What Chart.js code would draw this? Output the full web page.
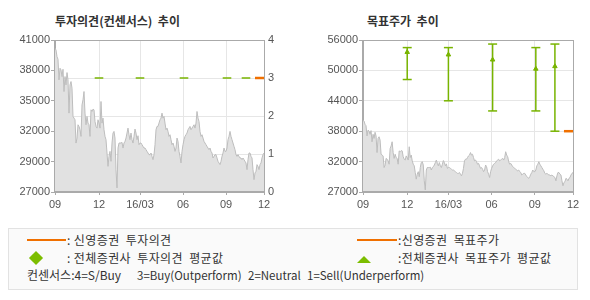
<!DOCTYPE html>
<html>
<head>
<meta charset="utf-8">
<script src="https://cdn.jsdelivr.net/npm/chart.js@4.4.1/dist/chart.umd.min.js"></script>
<style>
  body { margin: 0; background: #fff; width: 590px; height: 300px; position: relative; overflow: hidden;
         font-family: 'Noto Sans CJK KR', sans-serif; color: #333; }
  canvas { position: absolute; top: 0; }
  .title { position: absolute; top: 12px; font-size: 12px; font-weight: bold; color: #333; white-space: pre; }
  .legend { position: absolute; left: 8px; top: 228px; width: 568px; height: 60px;
            border: 1px solid #e2e2e2; background: #fafafa; }
  .lg { position: absolute; font-size: 12px; line-height: 16px; white-space: pre; color: #333; letter-spacing: 0.4px; }
  .lg.cs { letter-spacing: 0; font-size: 11.5px; }
  .ln { position: absolute; height: 2px; background: #f07000; }
  .dia { position: absolute; width: 10px; height: 10px; background: #7cbd00; transform: rotate(45deg); }
  .tri { position: absolute; width: 0; height: 0; border-left: 7px solid transparent;
         border-right: 7px solid transparent; border-bottom: 7px solid #7cbd00; }
</style>
</head>
<body>
<div class="title" style="left:55px">투자의견(컨센서스)  추이</div>
<div class="title" style="left:367px">목표주가  추이</div>
<canvas id="opinionChart" width="295" height="215" style="left:0"></canvas>
<canvas id="targetChart" width="290" height="215" style="left:300px"></canvas>

<div class="legend">
  <div class="ln" style="left:18px; top:10px; width:39px"></div>
  <div class="lg" style="left:58px; top:3px">: 신영증권  투자의견</div>
  <div class="dia" style="left:22px; top:24px"></div>
  <div class="lg" style="left:58px; top:21px">: 전체증권사  투자의견  평균값</div>
  <div class="lg" style="left:18px; top:38px; letter-spacing:0">컨센서스:4=S/Buy</div>
  <div class="lg cs" style="left:128px; top:38px">3=Buy(Outperform)</div>
  <div class="lg cs" style="left:239px; top:38px">2=Neutral</div>
  <div class="lg cs" style="left:298px; top:38px">1=Sell(Underperform)</div>
  <div class="ln" style="left:348px; top:10px; width:40px"></div>
  <div class="lg" style="left:389px; top:3px">:신영증권  목표주가</div>
  <div class="tri" style="left:348px; top:27px"></div>
  <div class="lg" style="left:389px; top:21px">:전체증권사  목표주가  평균값</div>
</div>

<script>
// ── Data ─────────────────────────────────────────────
// daily close, one value per trading day (2015/09 .. 2016/12)
const PRICE = [
  40180, 40016, 39360, 39098, 37064, 38212, 38048, 37392, 38114, 35916,
  37392, 36572, 37786, 37064, 33784, 36572, 36900, 36244, 33456, 33292,
  33128, 30832, 31324, 32636, 32472, 32144, 31488, 34604, 35096, 35916,
  33784, 32636, 33456, 32800, 32636, 31488, 34112, 33948, 34178, 34112,
  32964, 32472, 32308, 33128, 32800, 32308, 34932, 32800, 33292, 32144,
  31488, 31160, 29848, 28536, 29520, 30012, 29028, 30832, 31816, 31980,
  31324, 28208, 26404, 30340, 30832, 30832, 30832, 30898, 30340, 30832,
  30996, 31324, 31816, 32308, 31652, 31160, 31816, 31160, 30832, 31488,
  32210, 31816, 31160, 31554, 30668, 30832, 30832, 30668, 30504, 30340,
  30340, 30176, 30012, 29848, 29684, 29684, 29848, 29520, 29192, 29684,
  30668, 32144, 32472, 32472, 32800, 33128, 33292, 33784, 33292, 33456,
  32800, 32144, 32308, 31980, 31488, 31652, 31160, 30668, 30832, 30504,
  30012, 30340, 31324, 30996, 30012, 29520, 28864, 30012, 30668, 31160,
  31488, 31652, 31816, 32144, 32308, 32472, 32144, 32308, 32472, 32636,
  32308, 32800, 33948, 33292, 32964, 31980, 31488, 31652, 31324, 30996,
  30832, 30668, 30504, 30340, 30176, 30340, 30012, 29848, 29356, 29520,
  29684, 29684, 29356, 29028, 28864, 28700, 29028, 29520, 29848, 30340,
  30012, 30012, 30340, 31160, 31488, 31980, 31488, 31160, 30832, 30504,
  30176, 29684, 29520, 29684, 29520, 29356, 29356, 29192, 29356, 29192,
  29028, 28864, 28208, 29192, 29848, 29848, 29520, 29356, 28208, 27224,
  27880, 28044, 28700, 28536, 28208, 28700, 28864, 29356, 29684, 29848
];

const X_TICKS = [0, 44, 85, 128, 171, 209];
const X_LABELS = ['09', '12', '16/03', '06', '09', '12'];

// report dates (day index) of the broker consensus
const REPORT_IDX = [44, 85, 129, 172, 191];
const OPINION_AVG = [3, 3, 3, 3, 3];
const TARGET_HIGH = [54500, 54500, 55200, 54500, 55200];
const TARGET_LOW = [48200, 44000, 42000, 42000, 38000];
const TARGET_AVG = [53600, 53100, 52100, 50300, 50800];

// 신영증권 own call
const SY_IDX = [200, 209];
const SY_OPINION = [3, 3];
const SY_TARGET = [38000, 38000];

const OPINION_TICKS = [0, 1, 2, 3, 4];
const PRICE_TICKS_L = [26000, 29000, 32000, 35000, 38000, 41000];
const PRICE_LABELS_L = ['27000', '29000', '32000', '35000', '38000', '41000'];
const PRICE_TICKS_R = [26000, 32000, 38000, 44000, 50000, 56000];
const PRICE_LABELS_R = ['27000', '32000', '38000', '44000', '50000', '56000'];

// ── Style ────────────────────────────────────────────
const GREEN = '#78b400';
const ORANGE = '#f07000';
const AXIS = '#aaaaaa';
const GRID = '#e6e6e6';
const TICK_FONT = { family: 'Liberation Sans', size: 11 };
const TICK_COLOR = '#555';

// frame around the plot area
const framePlugin = {
  id: 'frame',
  afterDraw(chart) {
    const { ctx, chartArea: a } = chart;
    ctx.save();
    ctx.strokeStyle = AXIS;
    ctx.lineWidth = 1;
    ctx.strokeRect(Math.round(a.left) - 0.5, Math.round(a.top) + 0.5,
      Math.round(a.right - a.left) + 1, Math.round(a.bottom - a.top) - 1);
    ctx.restore();
  }
};

const priceData = PRICE.map((v, i) => ({ x: i, y: v }));

function priceDataset(axis) {
  return {
    type: 'line',
    data: priceData,
    yAxisID: axis,
    borderColor: '#bdbdbd',
    backgroundColor: '#e1e1e1',
    borderWidth: 1,
    pointRadius: 0,
    fill: 'start',
    tension: 0,
    order: 10
  };
}

function xScale() {
  return {
    type: 'linear',
    min: 0, max: PRICE.length - 1,
    afterBuildTicks: s => { s.ticks = X_TICKS.map(v => ({ value: v })); },
    afterFit: s => { s.height = 23; },
    grid: { color: GRID, tickColor: AXIS, tickLength: 3 },
    border: { color: AXIS },
    ticks: {
      autoSkip: false, maxRotation: 0, padding: 3,
      font: TICK_FONT, color: TICK_COLOR,
      callback: (v, i) => X_LABELS[i]
    }
  };
}

function priceScale(ticks, labels, width, max, onArea) {
  return {
    type: 'linear',
    position: 'left',
    min: ticks[0], max: max,
    afterBuildTicks: s => { s.ticks = ticks.map(v => ({ value: v })); },
    afterFit: s => { s.width = width; },
    grid: { drawOnChartArea: onArea, color: GRID, tickColor: AXIS, tickLength: 4 },
    border: { color: AXIS },
    ticks: { padding: 1, font: TICK_FONT, color: TICK_COLOR, callback: (v, i) => labels[i] }
  };
}

const baseOptions = {
  responsive: false,
  devicePixelRatio: 1,
  animation: false,
  plugins: { legend: { display: false }, tooltip: { enabled: false } },
};

window.addEventListener('DOMContentLoaded', () => {
  // ── 투자의견 chart ───────────────────────────────────
  new Chart(document.getElementById('opinionChart'), {
    type: 'line',
    plugins: [framePlugin],
    data: {
      datasets: [
        {
          type: 'line',
          data: SY_IDX.map((x, i) => ({ x, y: SY_OPINION[i] })),
          yAxisID: 'yo',
          borderColor: ORANGE,
          borderWidth: 2.5,
          pointRadius: 0,
          order: 1
        },
        {
          type: 'scatter',
          data: REPORT_IDX.map((x, i) => ({ x, y: OPINION_AVG[i] })),
          yAxisID: 'yo',
          pointStyle: 'line',
          pointRadius: 4.3,
          borderColor: GREEN,
          borderWidth: 1.5,
          order: 2
        },
        priceDataset('yp')
      ]
    },
    options: {
      ...baseOptions,
      layout: { padding: { top: 40, left: 0, right: 0, bottom: 0 } },
      scales: {
        x: xScale(),
        yp: priceScale(PRICE_TICKS_L, PRICE_LABELS_L, 55, 41000, false),
        yo: {
          type: 'linear',
          position: 'right',
          min: 0, max: 4,
          afterBuildTicks: s => { s.ticks = OPINION_TICKS.map(v => ({ value: v })); },
          afterFit: s => { s.width = 31; },
          grid: { color: GRID, drawTicks: false },
          border: { color: AXIS },
          ticks: { padding: 4, font: TICK_FONT, color: TICK_COLOR }
        }
      }
    }
  });

  // ── 목표주가 chart ───────────────────────────────────
  const barData = [];
  REPORT_IDX.forEach((x, i) => {
    barData.push({ x, y: TARGET_LOW[i] }, { x, y: TARGET_HIGH[i] }, { x, y: null });
  });
  const capData = [];
  REPORT_IDX.forEach((x, i) => {
    capData.push({ x, y: TARGET_LOW[i] }, { x, y: TARGET_HIGH[i] });
  });

  new Chart(document.getElementById('targetChart'), {
    type: 'line',
    plugins: [framePlugin],
    data: {
      datasets: [
        {
          type: 'line',
          data: SY_IDX.map((x, i) => ({ x, y: SY_TARGET[i] })),
          yAxisID: 'yp',
          borderColor: ORANGE,
          borderWidth: 2.5,
          pointRadius: 0,
          order: 1
        },
        {
          type: 'scatter',
          data: REPORT_IDX.map((x, i) => ({ x, y: TARGET_AVG[i] })),
          yAxisID: 'yp',
          pointStyle: 'triangle',
          pointRadius: 2.6,
          backgroundColor: GREEN,
          borderColor: GREEN,
          borderWidth: 1,
          order: 2
        },
        {
          type: 'scatter',
          data: capData,
          yAxisID: 'yp',
          pointStyle: 'line',
          pointRadius: 4.5,
          borderColor: GREEN,
          borderWidth: 1.5,
          order: 3
        },
        {
          type: 'line',
          data: barData,
          yAxisID: 'yp',
          borderColor: GREEN,
          borderWidth: 1.5,
          pointRadius: 0,
          spanGaps: false,
          order: 4
        },
        priceDataset('yp')
      ]
    },
    options: {
      ...baseOptions,
      layout: { padding: { top: 40, left: 0, right: 17, bottom: 0 } },
      scales: {
        x: xScale(),
        yp: priceScale(PRICE_TICKS_R, PRICE_LABELS_R, 63, 56000, true)
      }
    }
  });
});
</script>
</body>
</html>
